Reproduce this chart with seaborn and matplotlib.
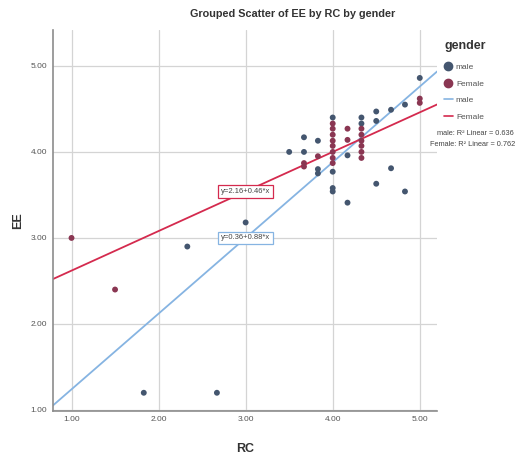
import numpy as np
import pandas as pd
import seaborn as sns
import matplotlib.pyplot as plt
from matplotlib.lines import Line2D

# data
rc_male = [1.83, 2.33, 2.67, 3.00, 3.50, 3.67, 3.67, 3.83, 3.83, 3.83, 4.00, 4.00, 4.00, 4.00,
           4.17, 4.17, 4.33, 4.33, 4.50, 4.50, 4.50, 4.67, 4.67, 4.83, 4.83, 5.00]
ee_male = [1.20, 2.90, 1.20, 3.18, 4.00, 4.00, 4.17, 4.13, 3.80, 3.75, 4.40, 3.77, 3.58, 3.54,
           3.96, 3.41, 4.40, 4.33, 4.47, 4.36, 3.63, 4.49, 3.81, 4.55, 3.54, 4.86]
rc_female = [1.00, 1.50, 3.67, 3.67, 3.83, 4.00, 4.00, 4.00, 4.00, 4.00, 4.00, 4.00, 4.00,
             4.17, 4.17, 4.33, 4.33, 4.33, 4.33, 4.33, 4.33, 5.00, 5.00]
ee_female = [3.00, 2.40, 3.83, 3.87, 3.95, 4.33, 4.27, 4.20, 4.13, 4.07, 4.00, 3.93, 3.87,
             4.27, 4.14, 4.27, 4.20, 4.13, 4.07, 4.00, 3.93, 4.57, 4.62]

genders = ["male", "Female"]
intercepts = [0.36, 2.16]
slopes = [0.88, 0.46]
fit_labels = ["y=0.36+0.88*x", "y=2.16+0.46*x"]
r2_labels = ["male: R\u00b2 Linear = 0.636", "Female: R\u00b2 Linear = 0.762"]
x_ticks = [1, 2, 3, 4, 5]
y_ticks = [1, 2, 3, 4, 5]

dot_colors = {"male": "#44566f", "Female": "#8a3652"}
line_colors = {"male": "#86b4e2", "Female": "#d42a4e"}

df = pd.DataFrame({
    "RC": rc_male + rc_female,
    "EE": ee_male + ee_female,
    "gender": ["male"] * len(rc_male) + ["Female"] * len(rc_female),
})

sns.set_style("white")
plt.rcParams['font.family'] = ['Liberation Sans', 'DejaVu Sans']

fig = plt.figure(figsize=(5.28, 4.58), dpi=100)
ax = fig.add_axes([0.100, 0.103, 0.728, 0.832])

xlo, xhi = 0.785, 5.20
ax.set_xlim(xlo, xhi)
ax.set_ylim(0.99, 5.42)
ax.set_xticks(x_ticks)
ax.set_yticks(y_ticks)
ax.set_xticklabels(["%.2f" % v for v in x_ticks], fontsize=6, color="#555555")
ax.set_yticklabels(["%.2f" % v for v in y_ticks], fontsize=6, color="#555555")
ax.grid(True, color="#d4d4d4", linewidth=0.9)
ax.set_axisbelow(True)
for s in ["top", "right"]:
    ax.spines[s].set_visible(False)
for s in ["left", "bottom"]:
    ax.spines[s].set_color("#8c8c8c")
    ax.spines[s].set_linewidth(1.2)
ax.tick_params(length=0, pad=4)

# fit lines
xs = np.array([xlo, xhi])
for g, a, b, lab in zip(genders, intercepts, slopes, fit_labels):
    ax.plot(xs, a + b * xs, color=line_colors[g], linewidth=1.3, zorder=2)
    ax.text(3.0, a + b * 3.0, lab, fontsize=5.5, color="#444444", ha="center", va="center",
            zorder=5, bbox=dict(boxstyle="square,pad=0.35", fc="white", ec=line_colors[g], lw=0.9))

sns.scatterplot(data=df, x="RC", y="EE", hue="gender", palette=dot_colors, s=18,
                edgecolor="none", legend=False, ax=ax, zorder=3)

ax.set_xlabel("RC", fontsize=9, fontweight="bold", color="#333333", labelpad=14)
ax.set_ylabel("EE", fontsize=9, fontweight="bold", color="#333333", labelpad=5)

fig.text(0.555, 0.970, "Grouped Scatter of EE by RC by gender", fontsize=7.8,
         fontweight="bold", color="#333333", ha="center", va="center")

# legend
handles = [Line2D([], [], marker="o", linestyle="none", color=dot_colors[g], markersize=6) for g in genders]
handles += [Line2D([], [], color=line_colors[g], linewidth=1.2) for g in genders]
leg = ax.legend(handles, genders + genders, title="gender", loc="upper left",
                bbox_to_anchor=(0.835, 0.92), bbox_transform=fig.transFigure,
                frameon=False, fontsize=6, title_fontsize=9, handlelength=1.0,
                handletextpad=0.4, labelspacing=1.05, borderaxespad=0)
leg._legend_box.align = "left"
leg._legend_box.sep = 8
for t in leg.get_texts():
    t.set_color("#555555")
leg.get_title().set_color("#333333")
leg.get_title().set_fontweight("bold")

fig.text(437 / 528, 0.706, r2_labels[0], fontsize=5.3, color="#444444", ha="left")
fig.text(430 / 528, 0.682, r2_labels[1], fontsize=5.3, color="#444444", ha="left")

fig.savefig("out.png", dpi=100)
